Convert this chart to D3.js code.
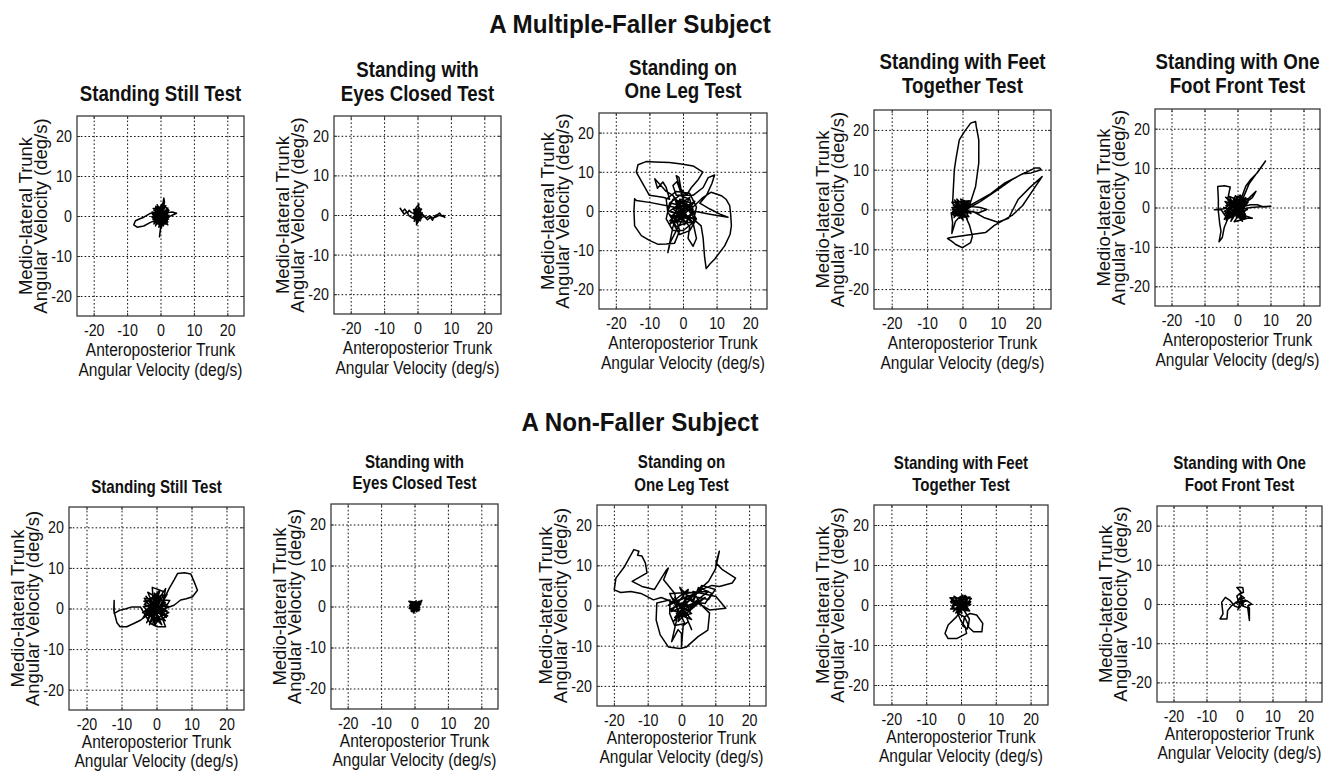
<!DOCTYPE html>
<html><head><meta charset="utf-8">
<script src="https://cdn.jsdelivr.net/npm/d3@7"></script>
<style>
body{margin:0;background:#fff}
svg{display:block}
text{font-family:"Liberation Sans",Arial,Helvetica,sans-serif;fill:#111}
</style>
</head><body>
<svg id="c" width="1323" height="773"></svg>
<script>
// ---------- data ----------
const tickValues = [-20, -10, 0, 10, 20];
const axisDomain = [-25, 25];
const xLabelLines = ["Anteroposterior Trunk", "Angular Velocity (deg/s)"];
const yLabelLines = ["Medio-lateral Trunk", "Angular Velocity (deg/s)"];
const groupTitles = ["A Multiple-Faller Subject", "A Non-Faller Subject"];
const testTitles = [
  ["Standing Still Test"],
  ["Standing with", "Eyes Closed Test"],
  ["Standing on", "One Leg Test"],
  ["Standing with Feet", "Together Test"],
  ["Standing with One", "Foot Front Test"]
];

// Multiple-faller subject trajectories [AP, ML] in deg/s
const mfStill = [
[0,0],[1.5,1.2],[-1.2,-1.8],[2,-0.5],[-2,1.5],[0.8,2.5],[-0.5,-2.8],[2.4,1],[-2.3,-0.8],[1,-2.2],[-1,2.8],[2.2,-1.5],[-1.8,0.3],[0.5,3],[0.3,-3],[-2.5,1],[2.5,0.2],[-1,-2],[1.2,2],[-1.6,-1.2],[1.8,1.6],[0,-1.5],[-0.8,1.8],[1.5,-2],[-2.2,-0.2],[0.6,0.4],[-1.4,2.4],[1.9,-0.9],[-0.2,-2.2],[0.9,1.4],[-2,0.8],[2.6,-0.3],[-0.7,-1.2],[0.2,2.1],
[-1.5,-2.5],[1.6,2.6],[-2.4,0.4],[2.2,-2.2],[-0.4,1.2],[1.2,-0.4],[-1.9,-1.6],[0.7,2.9],[2.5,1.4],[-2.6,-0.2],[0.1,-2.6],[-1.2,1.5],[1.8,-1.2],[-0.9,0.6],
[0.5,2],[1,4.5],[1.2,3.5],[0.6,1],
[2,0.8],[3.5,1],[4.8,0.7],[3,0],[1,-0.5],
[0.2,-2],[-0.3,-5.2],[0,-3],[-0.5,0],
[-2,0.8],[-3.2,0.6],[-5,-0.3],[-6.5,-0.8],[-7.5,-1.2],[-8,-2.2],[-7,-2.8],[-5,-2.5],[-3,-1.6],[-1.2,-1],
[1.8,0.5],[-1.5,2.2],[0.8,-2.5],[2.2,2],[-2,-2],[1,0.8],[-0.6,-0.6],[2,-1],[-1,1],[1.4,-1.4],[-1.8,-0.4],[0.4,1.6],[-2.2,1.9],[2.4,-0.8],[-0.3,-1.9],[1.1,1.1],[0,0]
];
const mfEyes = [
[0,0],[1,1.2],[-1,-1],[1.2,-0.8],[-1.1,1],[0.4,2.8],[-0.3,-2.5],[1.4,0.6],[-1.3,-0.4],[0.8,-1.5],[-0.6,1.6],[1.2,1.5],[-1,-1.6],[0.2,0.5],[1,-1.2],[-1.2,0.4],[0.6,1.8],[-0.4,-1.8],[1.3,0.2],[-0.8,-0.4],[0.9,0.9],[-1.2,1.4],[1.1,-0.3],
[-1.8,0.6],[-2.5,1.2],[-3,0.5],[-3.8,1.5],[-4.5,0.8],[-5.2,1.7],[-4.8,1.2],[-4,0.2],[-3.2,0.8],[-2.5,-0.2],[-1.5,-0.8],[-0.5,-1.2],
[1,-0.8],[2,-0.3],[3,-1.2],[3.8,-0.6],[4.5,-1.3],[5.2,-0.2],[6,0.1],[6.6,0.5],[7.2,-0.2],[7.8,-0.1],[8.2,-0.6],[7.4,-0.3],[6.5,-0.1],[5.5,-0.5],[4.6,-0.7],[3.6,-0.2],[2.6,-0.7],[1.5,0.2],[0.5,0.8],[-0.8,0.3],[1,-0.2],[-0.5,-0.5],[0.8,0.8],[0,0]
];
const mfOneLeg = [
[0,0],[-2,1.5],[1.5,-2],[-3,-1],[2.5,2],[-1,3],[0.5,-3.5],[3,0.5],[-3.5,2],[1,1],[-2,-3],[2,3.5],[-4,0],[3.5,-2],[0,2],[-1,-1],[-2.5,3.5],[2.5,-3],[-4,-2.5],[3.5,2.5],[-0.5,-2],
[-4,-1],[-2,-4],[1,-3],[3,0],[2,3],[-1,4],[-4,2],[-5,-2],[-3,-5],[0,-5],[3,-3],[4,1],[2,4.5],[-2,5],[-5,3],[-4.5,-0.5],[-2.5,-2],[0,-1],
[-3,4],[-5,5],[-8.4,8.2],[-7.6,5.8],[-6,7.4],[-5,6],[-4,3],
[-6,3.5],[-10,4],[-13.9,9.9],[-13.4,11.8],[-11,12.6],[-8.4,12.5],[-4,12.4],[-0.5,12],[3,11.5],[5.9,9.9],[4.5,8],[2.5,6],[1,4],
[-1,6],[-2,9],[-1.2,8.6],[-0.5,5],[0.5,2],[-1.8,7.5],[-3,6.5],[-2,4],
[3,4],[6,6],[7.5,8.5],[9.4,9.2],[8.6,7],[7,4],[5,2],[8,0.5],[11,-0.8],[13.4,-1.6],[8,-0.8],[2,0.2],[-4,1.2],[-10,2.2],[-13.9,2.7],
[-14.4,3.1],[-14.6,0],[-14.4,-3.8],[-12.4,-6.3],[-10,-7.5],[-7.4,-8.5],[-5,-8.4],[-2.5,-8.2],[-1,-5],[-2,-2],
[-3,-4],[-4.5,-10.6],[-3.8,-8],[-2,-5],[0,-2],
[2,-4],[1.5,-7],[3,-9],[4,-7],[3,-3],[1,-1],
[-3,-3],[-1,-6],[2,-5],[4,-2],[1,2],[-3,3],[-4.5,0],
[3,-2],[5.4,-3.8],[6,-7],[6.4,-11.5],[6.9,-14.7],[8,-13.5],[9.4,-12.3],[12.4,-8.9],[14,-6],[14.4,-3.8],[14.2,-1],[13.9,1.4],[12.8,3],[11.4,3.9],[8.4,4.8],[6,3.5],[3,1],
[-2,2.5],[1,-1.5],[-3,0.5],[2,1.5],[-1.5,-2.5],[3.5,-0.5],[-0.5,3],[-4,-3.5],[0,0]
];
const mfFeet = [
[0,0],[-2,1.5],[1.5,-1],[-2.5,-1.5],[1,1.8],[-1,-2],[2,0.5],[-3,0.5],[0.5,-1.5],[-1.5,2],[1.8,-1.8],[-2.8,-0.5],[0,1.5],[1.5,0.8],[-1,-1],[-2.2,2.4],[1.2,-2],[-3,-1.2],[2.2,1.6],[-0.5,2.6],[0.8,-0.6],[-2,0],[1.6,1.6],[-1.4,-1.6],[0.4,0.8],[-2.6,1],[1.9,-0.4],[-0.8,-2.2],[0.6,2.2],[-1.8,-0.8],
[-2.4,-2],[2,2.2],[-3,1.8],[1.4,-2.4],[-0.6,0.4],[2.4,-1],[-1.6,2.6],[0.2,-2.6],[-2.8,0],[1.6,0.2],
[1,1],[1.9,0.8],[3.7,5.8],[4.6,11.7],[4.6,17.5],[3.9,20.8],[3.7,22.1],[2.3,21.7],[0.5,19.5],[-0.9,17.5],[-1.8,13],[-2.3,10],[-2.6,5],[-2.8,1.5],[-1,0],
[1,0.5],[4,2],[8,4],[12,6.7],[16,8.5],[20.4,10.4],[21.8,10.4],[22.2,10],[19.4,9.2],[17,9],[14,7.5],[10,5],[5,2],[1,0],
[1.9,0.8],[5,0.5],[6.9,0],[4.6,-0.8],[2,-0.5],
[3,-0.5],[6,-2],[10,-3.2],[13,-2.2],[15.7,2.5],[19,5.5],[22.5,8.3],[20,5],[17,1],[14,-1.5],[12,-2.5],[9,-4],[6.5,-5.8],[3,-6.2],[-0.9,-6.7],[-3.7,-7.1],[-4.2,-7.3],[-3,-8],[-1.9,-8.8],[0,-9.6],[2.3,-8.3],[2.8,-6.7],[2,-4],[0.5,-1],
[-2.5,-1],[-3.2,-0.8],[-2.8,-3.3],[-3,-6],[-2,-3],
[0,-1],[-1.5,1],[1,-0.5],[-2,-0.5],[0.5,1],[0,0]
];
const mfFoot = [
[0,0],[-3,2],[2,-2.5],[-4,-1],[2.5,2.5],[-2,-3.5],[1,3],[-3.5,0.5],[3,-0.5],[-1,-2],[0,2.8],[-4,-3],[2.8,1],[-2.5,2.8],[1.5,-3.5],[-3.8,1.5],[2,0],[-1.5,-1],[0.5,1.5],[-3,-2.2],[3,2.2],[-1.8,1.2],[1.2,-1.5],[-4.2,0],[2.4,-1.8],[-0.6,3],[-2.6,-0.4],[1.8,1.8],[-3.4,-3.2],[0.6,-0.8],[-1.2,2.2],[2.6,0.6],[-2.2,-2.6],[0.2,0.6],
[-3.6,2.6],[2.8,-2.8],[-1,-3.6],[3.2,1.4],[-4,-1.8],[1,2.4],[-2,0.2],[2.2,-1],[-0.4,-2.4],[0.8,3.2],[-3.2,-0.6],[1.6,-0.2],
[1,2],[2.5,5.4],[4,7.1],[6,8.8],[7.5,10.6],[8.5,11.8],[6.5,9.5],[3.5,6],[1.5,2],
[3,2],[5.6,4.1],[4.5,2.5],[2,1],
[2,0.3],[4,0.7],[6,0.7],[8,0.1],[10,0.3],[7,0.2],[4,0],[1,-0.5],
[1,-2.7],[4.5,-2.7],[2,-2],
[-3,2],[-2.2,5.2],[-4,5.5],[-6,5.3],[-5.8,2],[-5.8,-1],[-5.4,-4],[-5,-6],[-5.6,-8.7],[-4.6,-7.6],[-4,-5],[-3,-3],
[-5,-0.5],[-7,-0.6],[-4,-0.3],
[-2,1],[1.5,-1],[-1,0.5],[2.4,1.6],[-2.6,-1.6],[0,0]
];

// Non-faller subject trajectories
const nfStill = [
[0,0],[-3,3],[2.5,-3],[-4,-1],[3,3.5],[-2,-4],[1,4.5],[-3.5,1],[3.5,-1],[-1.5,-3],[0,3],[-4,-2.5],[2.5,1.5],[-2.5,4],[1.5,-4],[-3.8,0.5],[3.5,0.5],[-1,-2],[0.5,2],[-2.8,-3.5],[2,4.2],[-1.2,5.2],[-0.5,-4.2],[3.8,2],[-3.5,2.5],[1,-2.5],[-1.8,1.2],[2.8,-2.2],[-0.6,3.8],[0.2,-3.2],[-2.2,-1.4],[1.8,2.8],[-3.2,-0.8],[3,-0.6],[0,1],
[-2.6,-2.6],[2.2,3.4],[-3.6,1.8],[3.2,-1.8],[-1,-3.6],[0.6,4],[-2,0.2],[1.6,-1],[-0.8,2.4],[2.8,1],[-3,-1.6],[1.2,3.2],[-1.6,-0.6],
[2.6,4.9],[2,2],
[3.6,4.9],[5,7],[6,8.6],[8,8.8],[9.8,8.5],[10.8,6.5],[11.7,4.5],[10.3,2.9],[8.5,2.4],[6.9,2.1],[5,0.8],[3,0.2],
[1,-1],[2.6,-4.5],[0.2,-4.5],[-1.7,-3.7],[-3,-2],
[-4.6,0.4],[-7,0.4],[-9,-0.1],[-10.4,-0.4],[-12.1,-1.2],[-12.1,2],[-12.2,-0.5],[-11.3,-3.5],[-10.4,-4.5],[-8.5,-4.5],[-6.5,-3.7],[-4.6,-2.9],[-2.5,-1.5],
[1.5,1],[-2.5,2],[2,-1.5],[-1,3.2],[0.8,-1],[-3,-1.8],[2.2,0.8],[-1.5,-0.5],[0,0]
];
const nfEyes = [
[0,0],[-1.2,1],[1.5,-0.8],[-1,-1.2],[1.8,1.2],[-1.5,0.2],[0.5,1.4],[-0.3,-1.6],[1.2,0.4],[-1.6,-0.5],[2.2,1.5],[0.8,-1],[-0.8,0.8],[1.6,-0.2],[-1.2,-0.6],[0.2,1.2],[-0.4,-1.4],[1,1],[-1.7,1.3],[0.6,-0.6],[1.9,0.6],[-0.9,-0.2],[0.3,0.7],[-1.3,0.5],[1.3,-1.1],[0,-0.2],[-0.6,1],[1.7,0.9],[-1,-1],[0.4,0],
[-1.4,-0.2],[1.4,1.3],[-0.2,-1.2],[0.9,0.2],[-1.1,1.2],[1.6,-0.6],[-0.5,0.4],[0.7,-1.3],[0,0]
];
const nfOneLeg = [
[0,0],[-3,2],[3,-2],[-2,-3],[4,3],[-4,0],[2,4],[-1,-4],[5,1],[-3,-1.5],[1,3],[6,3.5],[-2,1],[3,-3.5],[-1.5,-2],[7,2],[0,-3],[-3.5,3],[8,3.5],[1,-1],[-2.5,-4],[4,0.5],[-0.5,4.5],[2.5,-1.5],
[5,4.5],[9,3],[7,0.5],[3,1],[6,5],[10,4],[8,1.5],[2,2.5],[-1,-1],[1,-4.5],[-2,-5],[-3.5,-2],
[-3.4,1.4],[-7.3,0.6],[-7.5,-3.6],[-6.3,-7.3],[-3.9,-10.3],[-0.5,-10.7],[1.5,-10.3],[4.9,-7.75],[7.8,-6.1],[8.3,-1.9],[6,0],
[3.4,3.5],[10.2,2.25],[13.1,-0.7],[8.3,-1.1],[5,0.5],[2,1.5],
[6,4],[9,5],[11.2,4.75],[15,5.6],[16,6.8],[12.1,8.9],[10.2,10.6],[11.2,13.5],[10,9],[8,6],[4,3],
[0,0.5],[-3,1],[-6,2],[-8.3,1.4],[-12,3],[-15,3.5],[-18,3.25],[-19.9,3.9],[-19.4,6.8],[-17,9.5],[-14.1,13.9],[-12.6,13.5],[-13,12.5],[-11.7,12.3],[-10.7,10.6],[-10.2,8.1],[-14.6,6],[-11.7,4.75],[-8,4],
[-4.4,8.9],[-3.9,9.3],[-5.3,6.4],[-2,3],
[-1,-2],[-2.9,-9],[-1,-6],[0,-7],[0,-10.2],[0.5,-5],[2,-4],[3,-6],[1,-2],
[-2,2],[2,-2.5],[-3.5,-1],[3,1.5],[0,0]
];
const nfFeet = [
[0,0],[-2.5,1.5],[2,-1],[-3,-1],[1.5,2.2],[-1.5,-2],[2.8,0.8],[-2.8,0.5],[0.5,2.5],[-0.8,-1.8],[3,1.6],[-3.2,1.8],[1,-1.5],[-2,2.2],[2.2,-0.2],[-1,0.6],[0.3,-2],[-2.6,-0.4],[1.8,1.2],[-0.4,2],[2.5,-1.5],[-1.8,-1],[0.8,1],[-3,0.8],[1.4,-0.6],[-0.6,1.6],[2.6,2],[-2.2,-1.6],[0,0.4],
[-2.8,1.2],[2.2,-1.2],[-1.2,-0.8],[1.2,2.4],[-2.4,0],[2.8,0.2],[-0.2,-1.4],
[-1.25,-2.9],[-3.7,-5],[-4.6,-7.1],[-3.7,-8.4],[-1.25,-8.4],[1.6,-7.1],[1.2,-5.5],[0,-4],[-1,-2],
[1,-3],[2,-4.8],[1.8,-6],[0.5,-5.2],[1,-3],
[2.6,-2.1],[4.5,-2.5],[6.25,-4.6],[6,-6.7],[3.6,-6.7],[2.1,-5.5],[2.4,-3.5],[1,-1.5],
[-1.5,1],[1.5,-0.5],[-2,0],[0.5,1.5],[0,0]
];
const nfFoot = [
[0,0],[-0.8,2],[0.5,3],[-0.8,4.2],[1,4.2],[1.2,3],[0,2.5],[1.5,1.5],[-0.5,1],[1.2,-0.5],[0.5,2],[-1,0.2],[1.8,1],[0,-1],
[-1.5,-0.5],[-2.8,0.85],[-4.3,1.7],[-5.4,0.4],[-5,-2.5],[-5.9,-3.8],[-3.8,-3.8],[-3.6,-1.7],[-2.5,-0.5],[-1,0.5],
[1,0.5],[2.2,0.85],[3.7,0],[2.5,-0.5],[3,-1],[3,-4.2],[2.5,-1],[1,-0.5],[0.5,1],[-0.5,-1.5],[0,0]
];

// ---------- layout ----------
const rows = [
  { series: [mfStill, mfEyes, mfOneLeg, mfFeet, mfFoot],
    boxes: [[77,244,116,316],[334,501,116,314],[599,767,113,309],[874,1051,110,309],[1155,1320,109,306]],
    titleBase: [[101],[77,101],[75,98],[69,93],[69,93]],
    titleSize: 22, titleScale: 0.85, xl: [40, 60],
    groupX: 630, groupY: 33 },
  { series: [nfStill, nfEyes, nfOneLeg, nfFeet, nfFoot],
    boxes: [[69,244,507,710],[331,498,504,709],[597,766,505,706],[874,1048,505,705],[1157,1322,506,702]],
    titleBase: [[493],[468,489],[468,491],[469,491],[469,491]],
    titleSize: 18, titleScale: 0.84, xl: [38, 57],
    groupX: 640, groupY: 431 }
];
const SX = 0.84;     // horizontal squeeze of the figure text
const SY_ROT = 0.95; // squeeze of the rotated labels
const tickFmt = d => String(d); // plain hyphen-minus like the original

const svg = d3.select("#c");

function label(parent, str, x, y, size, weight, sx) {
  return parent.append("text")
    .attr("transform", `translate(${x},${y}) scale(${sx},1)`)
    .attr("text-anchor", "middle")
    .style("font-size", size + "px")
    .style("font-weight", weight)
    .text(str);
}

rows.forEach((row, ri) => {
  label(svg, groupTitles[ri], row.groupX, row.groupY, 25.5, "bold", 0.95);
  row.boxes.forEach((box, pi) => {
    const [x0, x1, y0, y1] = box;
    const w = x1 - x0, h = y1 - y0;
    const g = svg.append("g").attr("transform", `translate(${x0},${y0})`);
    const x = d3.scaleLinear().domain(axisDomain).range([0, w]);
    const y = d3.scaleLinear().domain(axisDomain).range([h, 0]);

    // grid + x tick labels
    const gx = g.append("g").attr("transform", `translate(0,${h})`)
      .call(d3.axisBottom(x).tickValues(tickValues).tickFormat(tickFmt).tickSize(-h).tickPadding(8));
    gx.select(".domain").remove();
    gx.selectAll(".tick line").attr("stroke", "#111").attr("stroke-width", 1).attr("stroke-dasharray", "1.6,2.2");
    gx.selectAll(".tick text").style("font-size", "17px").style("font-family", '"Liberation Sans",Arial,sans-serif')
      .attr("fill", "#111").attr("transform", `scale(${SX},1)`);

    const gy = g.append("g")
      .call(d3.axisLeft(y).tickValues(tickValues).tickFormat(tickFmt).tickSize(-w).tickPadding(6));
    gy.select(".domain").remove();
    gy.selectAll(".tick line").attr("stroke", "#111").attr("stroke-width", 1).attr("stroke-dasharray", "1.6,2.2");
    gy.selectAll(".tick text").style("font-size", "17px").style("font-family", '"Liberation Sans",Arial,sans-serif')
      .attr("fill", "#111").attr("transform", `scale(${SX},1)`);

    // small inward solid ticks on all sides
    const tk = 3;
    [[d3.axisBottom(x), `translate(0,${h})`], [d3.axisTop(x), "translate(0,0)"],
     [d3.axisLeft(y), "translate(0,0)"], [d3.axisRight(y), `translate(${w},0)`]].forEach(([ax, tr]) => {
      const a = g.append("g").attr("transform", tr).call(ax.tickValues(tickValues).tickSize(-tk).tickFormat(""));
      a.select(".domain").remove();
      a.selectAll(".tick line").attr("stroke", "#333").attr("stroke-width", 1);
    });

    // trajectory
    g.append("path").datum(row.series[pi])
      .attr("d", d3.line().x(d => x(d[0])).y(d => y(d[1])))
      .attr("fill", "none").attr("stroke", "#000")
      .attr("stroke-width", 1.5).attr("stroke-linejoin", "round").attr("stroke-linecap", "round");

    // frame
    g.append("rect").attr("x", 0).attr("y", 0).attr("width", w).attr("height", h)
      .attr("fill", "none").attr("stroke", "#3a3a3a").attr("stroke-width", 1.3);

    // panel title
    testTitles[pi].forEach((t, li) => {
      label(svg, t, x0 + w / 2, row.titleBase[pi][li], row.titleSize, "bold", row.titleScale);
    });

    // x label
    xLabelLines.forEach((t, li) => label(g, t, w / 2, h + row.xl[li], 18.5, "normal", SX));

    // y label (rotated)
    const yOff = [-45, -30];
    yLabelLines.forEach((t, li) => {
      g.append("text")
        .attr("transform", `translate(${yOff[li]},${h / 2}) rotate(-90) scale(1,${SY_ROT})`)
        .attr("text-anchor", "middle").style("font-size", "18.5px").text(t);
    });
  });
});
</script>
</body></html>
